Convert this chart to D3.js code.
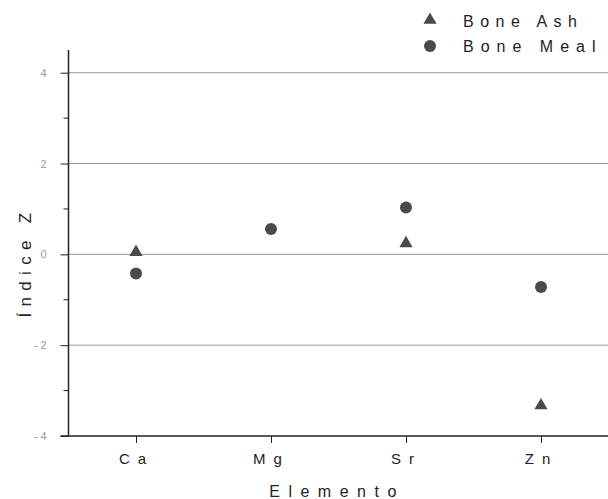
<!DOCTYPE html>
<html>
<head>
<meta charset="utf-8">
<script src="https://cdn.jsdelivr.net/npm/d3@7"></script>
<style>
  body { margin: 0; background: #fff; }
  svg { font-family: "Liberation Sans", Arial, sans-serif; }
</style>
</head>
<body>
<svg id="chart" width="608" height="499"></svg>
<script>
// values (no visible Bone Ash mark at Mg)
let elementos = ['Ca', 'Mg', 'Sr', 'Zn'];
let boneAsh = [0.05, null, 0.24, -3.33];
let boneMeal = [-0.42, 0.56, 1.03, -0.72];
let yTicks = [-4, -2, 0, 2, 4];
let yMinor = [-3, -1, 1, 3];

var svg = d3.select('#chart');
var x = d3.scaleLinear().domain([0.5, 4.5]).range([68.5, 608.5]);
var y = d3.scaleLinear().domain([-4, 4.5]).range([436, 50]);
var ink = '#4a4a4a';

// gridlines
svg.append('g').selectAll('line').data(yTicks.filter(d => d > -4)).enter().append('line')
    .attr('x1', x(0.5)).attr('x2', 608)
    .attr('y1', d => y(d)).attr('y2', d => y(d))
    .attr('stroke', '#999').attr('stroke-width', 1);

// y axis
var yAxis = d3.axisLeft(y).tickValues(yTicks).tickSize(8).tickPadding(14)
    .tickFormat(d => d < 0 ? '- ' + Math.abs(d) : d);
var gy = svg.append('g').attr('transform', 'translate(' + x(0.5) + ',0)').call(yAxis);
gy.select('.domain').attr('stroke', '#222').attr('stroke-width', 1.5).attr('d', 'M0,' + y(4.5) + 'V' + y(-4));
gy.selectAll('.tick line').attr('stroke', '#222');
gy.selectAll('.tick text').attr('fill', '#999').attr('font-size', 11);
gy.append('g').selectAll('line').data(yMinor).enter().append('line')
    .attr('x1', -5).attr('x2', 0).attr('y1', d => y(d)).attr('y2', d => y(d))
    .attr('stroke', '#222');

// x axis
var xAxis = d3.axisBottom(x).tickValues([1, 2, 3, 4]).tickSize(7).tickPadding(10)
    .tickFormat(d => elementos[d - 1]);
var gx = svg.append('g').attr('transform', 'translate(0,' + y(-4) + ')').call(xAxis);
gx.select('.domain').attr('stroke', '#222').attr('stroke-width', 1.5).attr('d', 'M' + (x(0.5) - 8) + ',0H608');
gx.selectAll('.tick line').attr('stroke', '#222');
gx.selectAll('.tick text').attr('fill', '#222').attr('font-size', 15).attr('letter-spacing', 8);

// axis titles
svg.append('text').text('Elemento').attr('x', 337).attr('y', 497)
    .attr('text-anchor', 'middle').attr('font-size', 16).attr('letter-spacing', 8.5).attr('fill', '#222');
svg.append('text').text('Índice Z')
    .attr('transform', 'translate(31,262) rotate(-90)')
    .attr('text-anchor', 'middle').attr('font-size', 17).attr('letter-spacing', 6.3).attr('fill', '#222');

// points
var tri = d3.symbol().type(d3.symbolTriangle).size(75);
var ashPts = boneAsh.map((v, i) => ({ i: i, v: v })).filter(d => d.v !== null);
svg.append('g').selectAll('path').data(ashPts).enter().append('path')
    .attr('d', tri)
    .attr('transform', d => 'translate(' + x(d.i + 1) + ',' + y(d.v) + ')')
    .attr('fill', ink);
svg.append('g').selectAll('circle').data(boneMeal).enter().append('circle')
    .attr('cx', (d, i) => x(i + 1)).attr('cy', d => y(d)).attr('r', 6)
    .attr('fill', ink);

// legend
var legend = svg.append('g');
legend.append('path').attr('d', tri).attr('transform', 'translate(430,20)').attr('fill', ink);
legend.append('circle').attr('cx', 430).attr('cy', 46).attr('r', 6).attr('fill', ink);
legend.append('text').text('Bone Ash').attr('x', 463).attr('y', 27)
    .attr('font-size', 16).attr('letter-spacing', 6.5).attr('fill', '#222');
legend.append('text').text('Bone Meal').attr('x', 463).attr('y', 52)
    .attr('font-size', 16).attr('letter-spacing', 7).attr('fill', '#222');
</script>
</body>
</html>
